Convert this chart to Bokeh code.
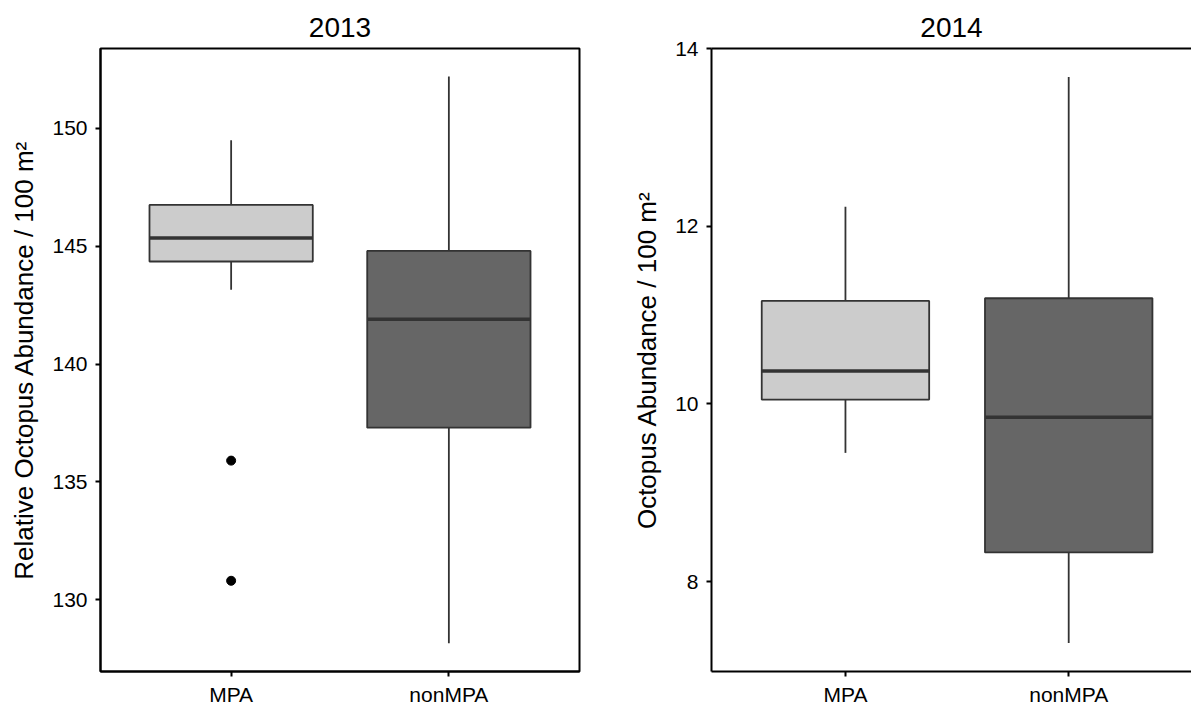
from bokeh.plotting import figure
from bokeh.models import Range1d, FixedTicker, LinearAxis
from bokeh.layouts import row
from bokeh.embed import file_html
from bokeh.resources import INLINE

# ---- data ----
groups = ["MPA", "nonMPA"]
fills = ["#cccccc", "#666666"]

lower_2013 = [143.15, 128.15]
q1_2013 = [144.35, 137.3]
med_2013 = [145.35, 141.9]
q3_2013 = [146.75, 144.8]
upper_2013 = [149.5, 152.2]
outlier_group_2013 = ["MPA", "MPA"]
outlier_val_2013 = [135.9, 130.8]

lower_2014 = [9.45, 7.31]
q1_2014 = [10.05, 8.33]
med_2014 = [10.37, 9.85]
q3_2014 = [11.16, 11.19]
upper_2014 = [12.22, 13.68]

ticks_2013 = [130, 135, 140, 145, 150]
ticks_2014 = [8, 10, 12, 14]

FONT = "Liberation Sans"
LINE = "#333333"
BOX_W = 0.75


def make_panel(title, ylabel, lower, q1, med, q3, upper, yticks, yrange, xend,
               width, border_left, border_right, full_outline,
               out_groups=None, out_vals=None):
    p = figure(width=width, height=708, output_backend="svg", toolbar_location=None,
               x_range=Range1d(0.4, xend), y_range=Range1d(*yrange),
               min_border_left=border_left, min_border_right=border_right,
               min_border_top=48, min_border_bottom=36)
    p.title.text = title
    p.title.align = "center"
    p.title.text_font = FONT
    p.title.text_font_size = "28px"
    p.title.text_font_style = "normal"
    p.title.text_color = "black"
    p.title.standoff = 24
    p.xgrid.visible = False
    p.ygrid.visible = False
    p.background_fill_color = "white"

    xs = [i + 1 for i in range(len(groups))]
    xax = p.below[0]
    yax = p.left[0]
    xax.ticker = FixedTicker(ticks=xs)
    xax.major_label_overrides = {x: g for x, g in zip(xs, groups)}
    yax.ticker = FixedTicker(ticks=yticks)
    for ax in (xax, yax):
        ax.axis_line_width = 2
        ax.axis_line_color = "black"
        ax.major_tick_line_width = 2
        ax.major_tick_line_color = "black"
        ax.major_tick_in = 0
        ax.major_tick_out = 5
        ax.minor_tick_line_color = None
        ax.major_label_text_font = FONT
        ax.major_label_text_font_size = "21px"
        ax.major_label_text_color = "black"
    xax.major_label_standoff = 6
    yax.major_label_standoff = 8
    yax.axis_label = ylabel
    yax.axis_label_text_font = FONT
    yax.axis_label_text_font_size = "26px"
    yax.axis_label_text_font_style = "normal"
    yax.axis_label_text_color = "black"
    yax.axis_label_standoff = 10

    if full_outline:
        p.outline_line_color = "black"
        p.outline_line_width = 2
        p.outline_line_alpha = 1
    else:
        p.outline_line_color = None
        top = LinearAxis(axis_line_width=2, axis_line_color="black",
                         major_tick_line_color=None, minor_tick_line_color=None,
                         major_tick_in=0, major_tick_out=0,
                         major_label_standoff=0,
                         major_label_text_font_size="0px",
                         ticker=FixedTicker(ticks=[]))
        p.add_layout(top, "above")

    # whiskers
    p.segment(x0=xs, y0=q3, x1=xs, y1=upper, line_color=LINE, line_width=1.8)
    p.segment(x0=xs, y0=q1, x1=xs, y1=lower, line_color=LINE, line_width=1.8)
    # boxes
    p.vbar(x=xs, width=BOX_W, top=q3, bottom=q1, fill_color=fills,
           line_color=LINE, line_width=1.8)
    # medians
    p.segment(x0=[x - BOX_W / 2 for x in xs], y0=med,
              x1=[x + BOX_W / 2 for x in xs], y1=med,
              line_color=LINE, line_width=3.5)
    if out_groups:
        ox = [groups.index(g) + 1 for g in out_groups]
        p.scatter(x=ox, y=out_vals, size=9, color="black")
    return p


p1 = make_panel("2013", "Relative Octopus Abundance / 100 m\u00b2",
                lower_2013, q1_2013, med_2013, q3_2013, upper_2013,
                ticks_2013, (126.95, 153.39), 2.6, 619, 100, 40, True,
                outlier_group_2013, outlier_val_2013)
p2 = make_panel("2014", "Octopus Abundance / 100 m\u00b2",
                lower_2014, q1_2014, med_2014, q3_2014, upper_2014,
                ticks_2014, (6.99, 14.0), 2.55, 572, 92, 0, False)

layout = row(p1, p2)
open("out.html", "w").write(file_html(layout, INLINE))
